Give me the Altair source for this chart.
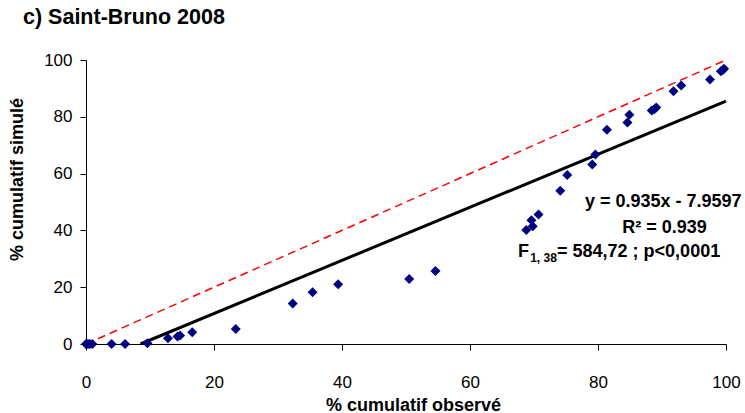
import altair as alt
import pandas as pd

# Observed vs simulated cumulative percentages (Saint-Bruno, 2008)
observed = [0.0, 0.3, 0.6, 1.0, 4.0, 6.1, 9.6, 12.8, 14.3, 14.7, 16.6, 23.4,
            32.3, 35.4, 39.4, 50.5, 54.6, 68.8, 69.6, 69.8, 70.7, 74.1, 75.2,
            79.1, 79.6, 81.4, 84.6, 84.9, 88.4, 88.8, 89.1, 91.8, 93.0, 97.5,
            99.2, 99.5, 99.7]
simulated = [0.0, 0.0, 0.0, 0.0, 0.0, 0.0, 0.3, 2.0, 2.6, 3.0, 4.1, 5.3,
             14.3, 18.2, 21.0, 22.9, 25.7, 40.1, 43.6, 41.5, 45.6, 54.0, 59.5,
             63.2, 66.7, 75.4, 78.0, 80.7, 82.2, 82.7, 83.3, 89.0, 91.0, 93.1,
             96.0, 96.5, 96.9]

# Linear fit reported on the chart
slope = 0.935
intercept = -7.9597
r2_text = "R² = 0.939"
eq_text = "y = 0.935x - 7.9597"
f_text = "= 584,72 ; p<0,0001"
f_sub = "1, 38"

FONT = "Liberation Sans"

points = pd.DataFrame({"obs": observed, "sim": simulated})

x_start = -intercept / slope
fit = pd.DataFrame({"obs": [x_start, 100.0],
                    "sim": [slope * x_start + intercept, slope * 100.0 + intercept]})
identity = pd.DataFrame({"obs": [0.0, 100.0], "sim": [0.0, 100.0]})

x_scale = alt.Scale(domain=[0, 100], nice=False)
y_scale = alt.Scale(domain=[0, 100], nice=False)
ticks = [0, 20, 40, 60, 80, 100]

x_axis = alt.Axis(values=ticks, title="% cumulatif observé", grid=False,
                  domainColor="black", tickColor="black", tickSize=6,
                  labelFont=FONT, labelFontSize=17, labelColor="black",
                  labelBaseline="middle", labelPadding=32,
                  titleFont=FONT, titleFontSize=18, titleFontWeight="bold",
                  titleColor="black", titleBaseline="middle",
                  titleX=327, titleY=61, labelFlush=False)
y_axis = alt.Axis(values=ticks, title="% cumulatif simulé", grid=False,
                  domainColor="black", tickColor="black", tickSize=6,
                  labelFont=FONT, labelFontSize=17, labelColor="black",
                  labelPadding=8, labelFlush=False,
                  titleFont=FONT, titleFontSize=18, titleFontWeight="bold",
                  titleColor="black", titleAngle=-90, titleAlign="center",
                  titleBaseline="middle", titleX=-69, titleY=119)

base_x = alt.X("obs:Q", scale=x_scale, axis=x_axis)
base_y = alt.Y("sim:Q", scale=y_scale, axis=y_axis)

identity_line = alt.Chart(identity).mark_line(
    color="#FF0000", strokeWidth=1.5, strokeDash=[8, 5]
).encode(x=base_x, y=base_y)

fit_line = alt.Chart(fit).mark_line(
    color="black", strokeWidth=3
).encode(x="obs:Q", y="sim:Q")

scatter = alt.Chart(points).mark_point(
    shape="diamond", filled=True, color="#000080", size=100, opacity=1
).encode(x="obs:Q", y="sim:Q")

# Regression annotation
centered = pd.DataFrame({"obs": [90.2, 90.4], "sim": [48.1, 39.2],
                         "label": [eq_text, r2_text]})
centered_text = alt.Chart(centered).mark_text(
    font=FONT, fontSize=18, fontWeight="bold", color="black",
    align="center", baseline="alphabetic"
).encode(x="obs:Q", y="sim:Q", text="label:N")

f_main = pd.DataFrame({"obs": [67.5, 73.6], "sim": [30.6, 30.6], "label": ["F", f_text]})
f_main_text = alt.Chart(f_main).mark_text(
    font=FONT, fontSize=18, fontWeight="bold", color="black",
    align="left", baseline="alphabetic"
).encode(x="obs:Q", y="sim:Q", text="label:N")

f_sub_df = pd.DataFrame({"obs": [69.4], "sim": [28.9], "label": [f_sub]})
f_sub_text = alt.Chart(f_sub_df).mark_text(
    font=FONT, fontSize=12, fontWeight="bold", color="black",
    align="left", baseline="alphabetic"
).encode(x="obs:Q", y="sim:Q", text="label:N")

chart = alt.layer(
    identity_line, fit_line, scatter, centered_text, f_main_text, f_sub_text
).properties(
    width=640,
    height=284,
    title=alt.Title("c) Saint-Bruno 2008", anchor="start", frame="group",
                    dx=-63, offset=23, font=FONT, fontSize=21.5,
                    fontWeight="bold", color="black"),
    autosize=alt.AutoSizeParams(type="none"),
    padding={"left": 86, "top": 60, "right": 19, "bottom": 69},
    background="white",
).configure_view(strokeWidth=0)

chart.save("out.html", embed_options={"renderer": "svg", "actions": False})
